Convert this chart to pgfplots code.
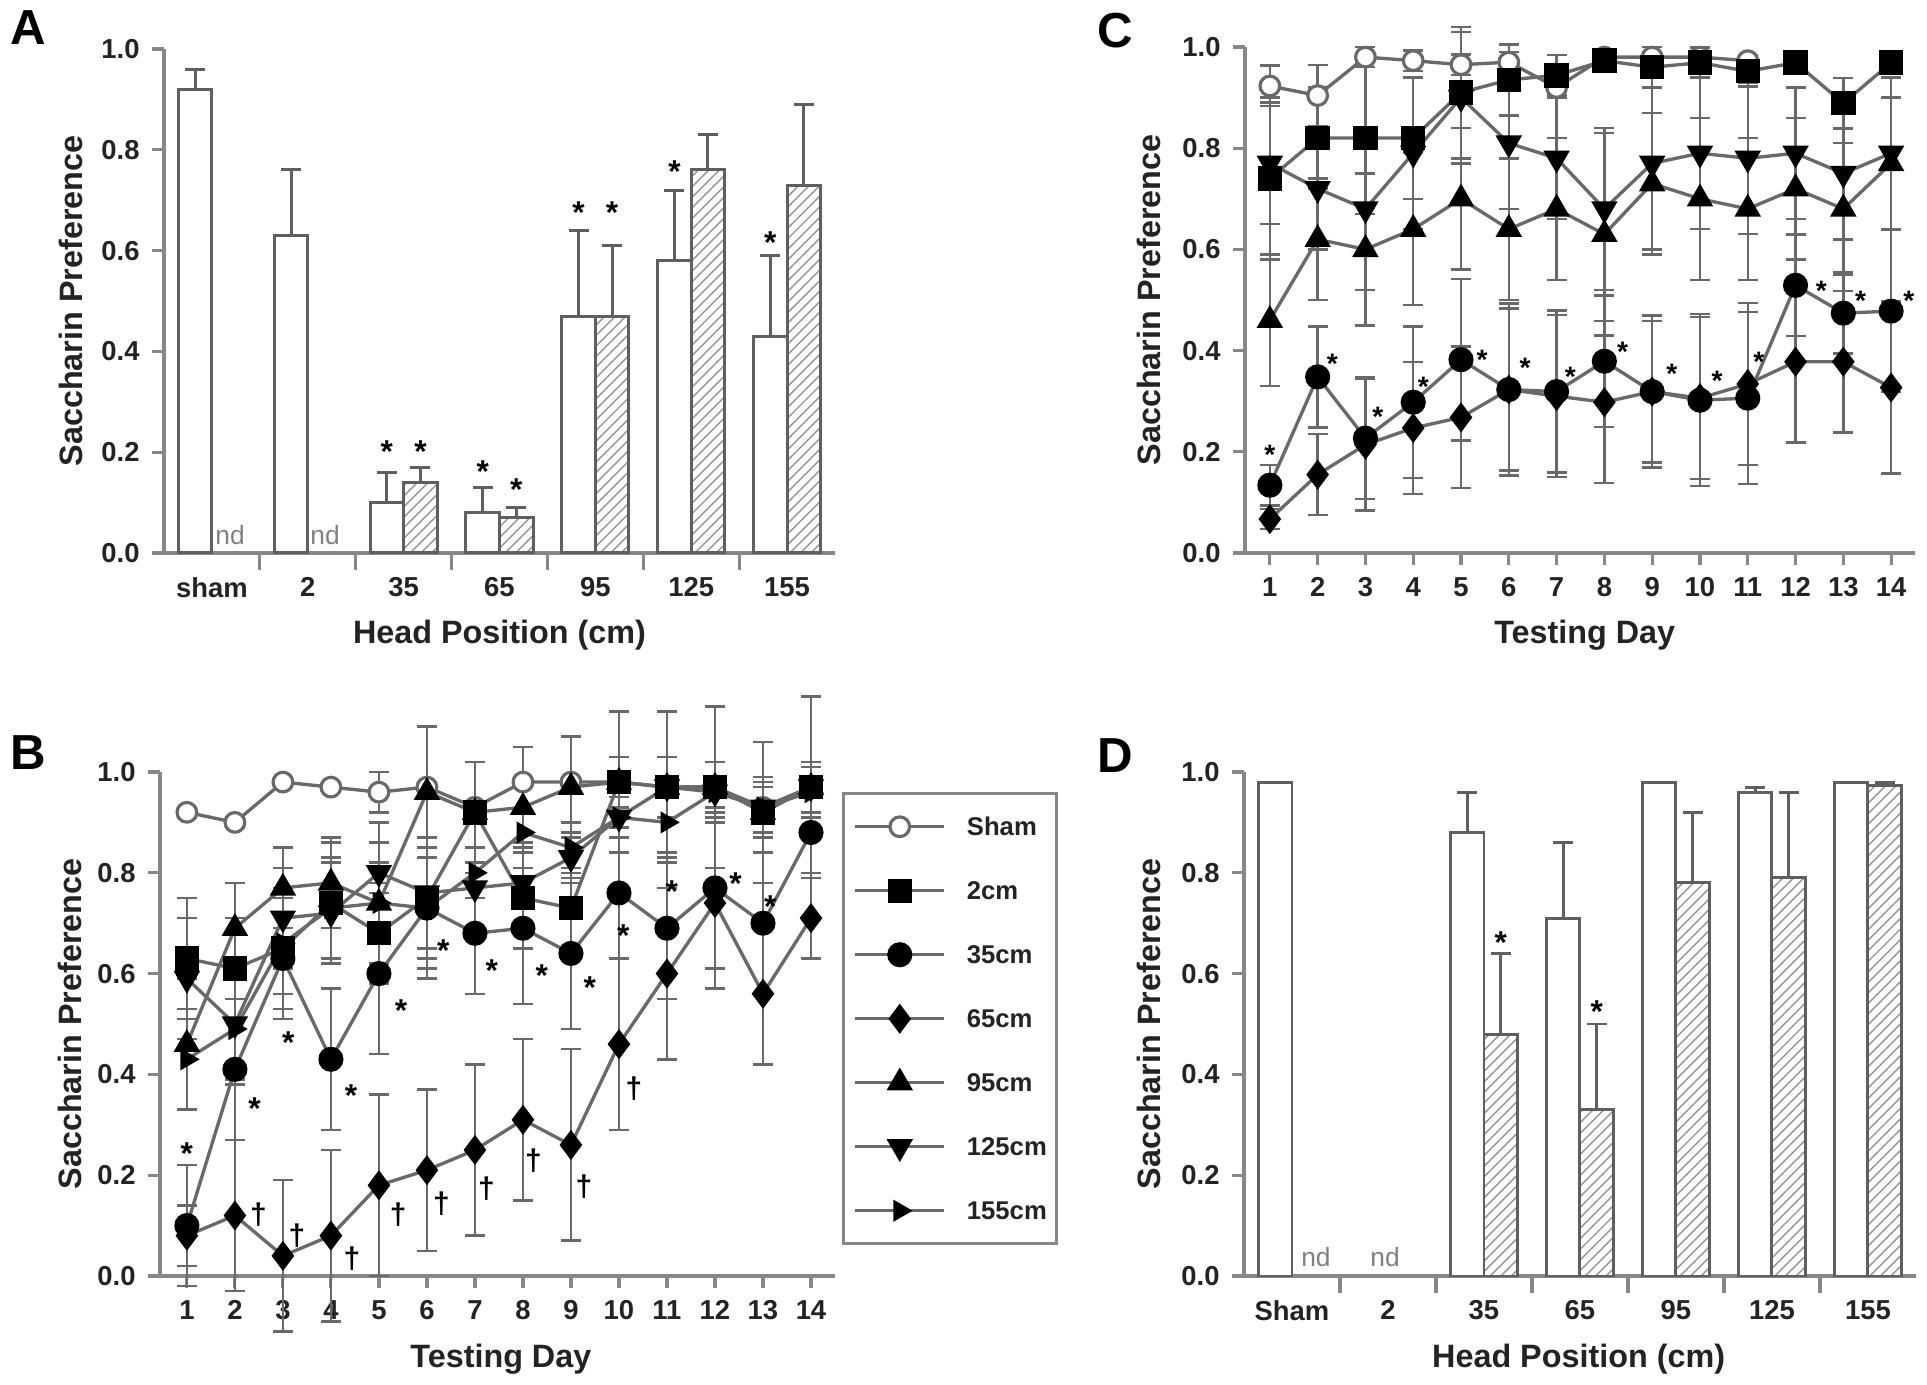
\documentclass[border=0pt]{standalone}
\usepackage{fontspec}
\setmainfont{Liberation Sans}
\usepackage{pgfplots}
\usepackage{pgfplotstable}
\pgfplotsset{compat=1.18}
\usetikzlibrary{patterns}

\definecolor{agray}{RGB}{135,135,135}
\definecolor{lgray}{RGB}{105,105,105}
\definecolor{bgray}{RGB}{95,95,95}
\definecolor{hgray}{RGB}{150,150,150}
\definecolor{tgray}{RGB}{35,35,35}

\newcommand\tfont{\fontsize{7.8}{9}\selectfont\bfseries}
\newcommand\lfont{\fontsize{9.2}{11}\selectfont\bfseries}
\newcommand\pfont{\fontsize{14}{16}\selectfont\bfseries}
\newcommand\sfont{\fontsize{9}{10}\selectfont\bfseries}
\newcommand\dfont{\fontsize{8.5}{10}\selectfont\bfseries}

\pgfplotstableread{
d sv se qv qe cv ce dv de tv te iv ie rv re
1 0.92 0.01 0.63 0.12 0.10 0.12 0.08 0.06 0.46 0.13 0.59 0.12 0.43 0.10
2 0.90 0.01 0.61 0.10 0.41 0.14 0.12 0.15 0.69 0.09 0.50 0.12 0.49 0.10
3 0.98 0.01 0.65 0.12 0.63 0.12 0.04 0.15 0.77 0.08 0.71 0.10 0.66 0.10
4 0.97 0.01 0.74 0.12 0.43 0.14 0.08 0.17 0.78 0.09 0.72 0.10 0.73 0.10
5 0.96 0.04 0.68 0.10 0.60 0.16 0.18 0.18 0.74 0.08 0.80 0.10 0.74 0.12
6 0.97 0.01 0.75 0.12 0.73 0.14 0.21 0.16 0.96 0.13 0.76 0.11 0.73 0.12
7 0.93 0.01 0.92 0.10 0.68 0.12 0.25 0.17 0.92 0.10 0.77 0.08 0.80 0.05
8 0.98 0.01 0.75 0.10 0.69 0.15 0.31 0.16 0.93 0.12 0.78 0.08 0.88 0.04
9 0.98 0.01 0.73 0.08 0.64 0.15 0.26 0.19 0.97 0.10 0.83 0.05 0.85 0.05
10 0.98 0.01 0.98 0.05 0.76 0.13 0.46 0.17 0.98 0.14 0.91 0.04 0.91 0.04
11 0.97 0.01 0.97 0.06 0.69 0.14 0.60 0.17 0.97 0.15 0.97 0.06 0.90 0.06
12 0.97 0.01 0.97 0.05 0.77 0.16 0.74 0.17 0.97 0.16 0.96 0.06 0.96 0.06
13 0.93 0.01 0.92 0.05 0.70 0.14 0.56 0.14 0.92 0.14 0.93 0.06 0.93 0.05
14 0.97 0.01 0.97 0.05 0.88 0.08 0.71 0.08 0.97 0.18 0.97 0.05 0.96 0.05
}\Bdata

\pgfplotstableread{
d sv se qv qe cv ce dv de tv te iv ie
1 0.923 0.04 0.74 0.16 0.134 0.04 0.067 0.02 0.46 0.13 0.77 0.12
2 0.904 0.06 0.82 0.10 0.348 0.10 0.155 0.08 0.62 0.12 0.72 0.12
3 0.98 0.02 0.82 0.15 0.227 0.12 0.214 0.13 0.60 0.15 0.68 0.16
4 0.973 0.02 0.82 0.12 0.298 0.15 0.247 0.13 0.64 0.15 0.79 0.15
5 0.965 0.02 0.91 0.13 0.382 0.16 0.268 0.14 0.70 0.14 0.90 0.13
6 0.97 0.02 0.935 0.07 0.323 0.17 0.323 0.16 0.64 0.14 0.81 0.13
7 0.92 0.02 0.944 0.04 0.319 0.16 0.31 0.16 0.68 0.14 0.78 0.12
8 0.98 0.01 0.973 0.02 0.379 0.13 0.298 0.16 0.63 0.20 0.68 0.16
9 0.98 0.01 0.96 0.04 0.319 0.14 0.319 0.15 0.73 0.14 0.77 0.17
10 0.98 0.01 0.969 0.03 0.302 0.17 0.306 0.16 0.70 0.16 0.79 0.15
11 0.973 0.01 0.952 0.03 0.306 0.17 0.334 0.16 0.68 0.14 0.78 0.15
12 nan nan 0.969 0.02 0.529 0.10 0.378 0.16 0.72 0.14 0.79 0.13
13 nan nan 0.889 0.05 0.474 0.08 0.378 0.14 0.68 0.13 0.75 0.13
14 nan nan 0.969 0.02 0.478 0.16 0.327 0.17 0.77 0.13 0.79 0.15
}\Cdata

\pgfplotsset{
  panel/.style={
    scale only axis, clip=false,
    axis x line*=bottom, axis y line*=left,
    axis line style={draw=agray, line width=1.1pt},
    tick align=outside,
    tick style={draw=agray, line width=0.9pt},
    major tick length=0.12cm,
    ymin=0, ymax=1,
    ytick={0,0.2,0.4,0.6,0.8,1.0},
    /pgf/number format/assume math mode=true,
    yticklabel style={/pgf/number format/fixed, /pgf/number format/fixed zerofill, /pgf/number format/precision=1},
    tick label style={font=\tfont, text=tgray},
    label style={font=\lfont, text=tgray},
    ylabel={Saccharin Preference},
    xlabel style={at={(axis description cs:0.5,-0.163)}, anchor=center},
  },
  barpanel/.style={panel, xmin=-0.5, xmax=6.5, xtick={0,...,6}, minor xtick={0.5,1.5,...,5.5},
    major x tick style={draw=none}, minor tick length=0.17cm, xlabel={Head Position (cm)}},
  linepanel/.style={panel, xmax=14.5, xtick={1,...,14}, xlabel={Testing Day}},
  wbar/.style={ybar, bar width=0.35, bar shift=0pt, draw=bgray, line width=0.85pt, fill=white,
    error bars/y dir=plus, error bars/y explicit,
    error bars/error bar style={draw=bgray, line width=0.85pt},
    error bars/error mark options={draw=bgray, line width=0.85pt, mark size=0.1cm, rotate=90}},
  hbar/.style={ybar, bar width=0.35, bar shift=0pt, draw=bgray, line width=0.85pt,
    preaction={fill=white}, pattern=north east lines, pattern color=hgray,
    error bars/y dir=plus, error bars/y explicit,
    error bars/error bar style={draw=bgray, line width=0.85pt},
    error bars/error mark options={draw=bgray, line width=0.85pt, mark size=0.1cm, rotate=90}},
  ser/.style={color=lgray, line width=0.95pt,
    error bars/y dir=both, error bars/y explicit,
    error bars/error bar style={draw=lgray, line width=0.7pt},
    error bars/error mark options={draw=lgray, line width=0.7pt, mark size=0.1cm, rotate=90}},
  mSham/.style={mark=*, mark size=2.8pt, mark options={solid, draw=lgray, fill=white, line width=0.9pt}},
  mSq/.style={mark=square*, mark size=3.0pt, mark options={solid, draw=black, fill=black}},
  mCi/.style={mark=*, mark size=3.1pt, mark options={solid, draw=black, fill=black}},
  mDi/.style={mark=diamond*, mark size=3.5pt, mark options={solid, draw=black, fill=black}},
  mTr/.style={mark=triangle*, mark size=3.4pt, mark options={solid, draw=black, fill=black}},
  mIt/.style={mark=triangle*, mark size=3.4pt, mark options={solid, rotate=180, draw=black, fill=black}},
  mRt/.style={mark=triangle*, mark size=2.7pt, mark options={solid, rotate=-90, draw=black, fill=black}},
  annot/.style={draw=none, mark=none, nodes near coords={#1}, nodes near coords align={anchor=center}},
}

\begin{document}
\begin{tikzpicture}
\path[use as bounding box] (0,0) rectangle (19.27,13.85);

% ---------------- A ----------------
\begin{axis}[barpanel, at={(1.64cm,8.32cm)}, anchor=south west, width=6.71cm, height=5.04cm,
  xticklabels={sham,2,35,65,95,125,155},
  ylabel style={at={(axis description cs:-0.139,0.5)}, anchor=center}]
\addplot[wbar] coordinates {(-0.175,0.92) +- (0,0.04) (0.825,0.63) +- (0,0.13) (1.825,0.10) +- (0,0.06) (2.825,0.08) +- (0,0.05) (3.825,0.47) +- (0,0.17) (4.825,0.58) +- (0,0.14) (5.825,0.43) +- (0,0.16)};
\addplot[hbar] coordinates {(2.175,0.14) +- (0,0.03) (3.175,0.07) +- (0,0.02) (4.175,0.47) +- (0,0.14) (5.175,0.76) +- (0,0.07) (6.175,0.73) +- (0,0.16)};
\addplot[annot={*}, every node near coord/.append style={font=\sfont, text=black, yshift=-0.07cm}] coordinates {(1.825,0.215) (2.175,0.215) (2.825,0.175) (3.175,0.14) (3.825,0.69) (4.175,0.69) (4.825,0.77) (5.825,0.63)};
\addplot[annot={nd}, every node near coord/.append style={font=\fontsize{7.5}{9}\selectfont, text=gray}] coordinates {(0.19,0.035) (1.18,0.035)};
\end{axis}

% ---------------- B ----------------
\begin{axis}[linepanel, xmin=0.44, at={(1.60cm,1.09cm)}, anchor=south west, width=6.75cm, height=5.04cm,
  xlabel style={at={(axis description cs:0.505,-0.165)}},
  ylabel style={at={(axis description cs:-0.133,0.5)}, anchor=center},
  legend cell align=left,
  legend image code/.code={\draw[mark repeat=2,mark phase=2,#1] plot coordinates {(0cm,0cm) (0.445cm,0cm) (0.89cm,0cm)};},
  legend style={at={(1.0104,0.960)}, anchor=north west, draw=agray, line width=0.9pt, fill=white,
    inner xsep=0.1cm, inner ysep=0.01cm, font=\fontsize{7.3}{8}\selectfont\bfseries, text=tgray,
    nodes={inner sep=0pt, text height=0.412cm, text depth=0.228cm},
    /tikz/every odd column/.append style={column sep=0.21cm}, row sep=0pt}]
\addplot[ser, mSham] table[x=d, y=sv, y error=se] {\Bdata}; \addlegendentry{Sham}
\addplot[ser, mSq] table[x=d, y=qv, y error=qe] {\Bdata}; \addlegendentry{2cm}
\addplot[ser, mCi] table[x=d, y=cv, y error=ce] {\Bdata}; \addlegendentry{35cm}
\addplot[ser, mDi] table[x=d, y=dv, y error=de] {\Bdata}; \addlegendentry{65cm}
\addplot[ser, mTr] table[x=d, y=tv, y error=te] {\Bdata}; \addlegendentry{95cm}
\addplot[ser, mIt] table[x=d, y=iv, y error=ie] {\Bdata}; \addlegendentry{125cm}
\addplot[ser, mRt] table[x=d, y=rv, y error=re] {\Bdata}; \addlegendentry{155cm}
\addplot[annot={*}, every node near coord/.append style={font=\sfont, text=black, yshift=-0.07cm}] coordinates {(1.0,0.257) (2.41,0.346) (3.11,0.477) (4.42,0.371) (5.46,0.54) (6.34,0.66) (7.35,0.62) (8.39,0.61) (9.39,0.587) (10.09,0.69) (11.1,0.776) (12.43,0.793) (13.15,0.747)};
\addplot[annot={†}, every node near coord/.append style={font=\dfont, text=black}] coordinates {(2.49,0.122) (3.29,0.08) (4.44,0.034) (5.40,0.122) (6.30,0.143) (7.24,0.173) (8.22,0.228) (9.27,0.177) (10.31,0.371)};
\end{axis}

% ---------------- C ----------------
\begin{axis}[linepanel, xmin=0.48, at={(12.45cm,8.32cm)}, anchor=south west, width=6.70cm, height=5.06cm,
  xlabel style={at={(axis description cs:0.507,-0.162)}},
  ylabel style={at={(axis description cs:-0.143,0.5)}, anchor=center}]
\addplot[ser, mSham] table[x=d, y=sv, y error=se] {\Cdata};
\addplot[ser, mDi] table[x=d, y=dv, y error=de] {\Cdata};
\addplot[ser, mCi] table[x=d, y=cv, y error=ce] {\Cdata};
\addplot[ser, mTr] table[x=d, y=tv, y error=te] {\Cdata};
\addplot[ser, mIt] table[x=d, y=iv, y error=ie] {\Cdata};
\addplot[ser, mSq] table[x=d, y=qv, y error=qe] {\Cdata};
\addplot[annot={*}, every node near coord/.append style={font=\fontsize{8}{9}\selectfont\bfseries, text=black, yshift=-0.06cm}] coordinates {(1.0,0.205) (2.31,0.386) (3.26,0.281) (4.21,0.34) (5.44,0.394) (6.34,0.377) (7.29,0.36) (8.38,0.41) (9.41,0.365) (10.36,0.352) (11.23,0.39) (12.54,0.53) (13.36,0.51) (14.37,0.51)};
\end{axis}

% ---------------- D ----------------
\begin{axis}[barpanel, at={(12.44cm,1.09cm)}, anchor=south west, width=6.72cm, height=5.04cm,
  xticklabels={Sham,2,35,65,95,125,155},
  xlabel style={at={(axis description cs:0.498,-0.165)}},
  ylabel style={at={(axis description cs:-0.141,0.5)}, anchor=center}]
\addplot[wbar] coordinates {(-0.175,0.98) (1.825,0.88) +- (0,0.08) (2.825,0.71) +- (0,0.15) (3.825,0.98) (4.825,0.96) +- (0,0.01) (5.825,0.98)};
\addplot[hbar] coordinates {(2.175,0.48) +- (0,0.16) (3.175,0.33) +- (0,0.17) (4.175,0.78) +- (0,0.14) (5.175,0.79) +- (0,0.17) (6.175,0.973) +- (0,0.007)};
\addplot[annot={*}, every node near coord/.append style={font=\sfont, text=black, yshift=-0.07cm}] coordinates {(2.175,0.675) (3.175,0.538)};
\addplot[annot={nd}, every node near coord/.append style={font=\fontsize{7.5}{9}\selectfont, text=gray}] coordinates {(0.25,0.038) (0.97,0.038)};
\end{axis}

\node[font=\pfont, text=black] at (0.28,13.57) {A};
\node[font=\pfont, text=black] at (0.28,6.32) {B};
\node[font=\pfont, text=black] at (11.15,13.54) {C};
\node[font=\pfont, text=black] at (11.15,6.29) {D};
\end{tikzpicture}
\end{document}
